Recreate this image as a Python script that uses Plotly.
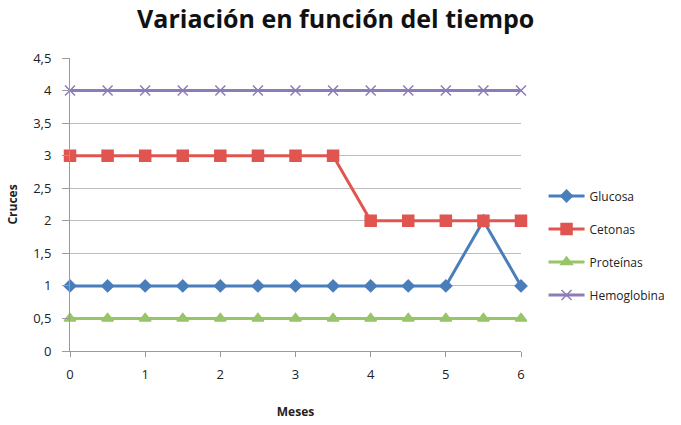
import plotly.graph_objects as go

meses = [0, 0.5, 1, 1.5, 2, 2.5, 3, 3.5, 4, 4.5, 5, 5.5, 6]
glucosa = [1, 1, 1, 1, 1, 1, 1, 1, 1, 1, 1, 2, 1]
cetonas = [3, 3, 3, 3, 3, 3, 3, 3, 2, 2, 2, 2, 2]
proteinas = [0.5] * 13
hemoglobina = [4] * 13

y_ticks = [0, 0.5, 1, 1.5, 2, 2.5, 3, 3.5, 4, 4.5]
y_labels = ["0", "0,5", "1", "1,5", "2", "2,5", "3", "3,5", "4", "4,5"]

series = [
    ("Glucosa", glucosa, "#4A7EBB", "diamond", 9),
    ("Cetonas", cetonas, "#E05550", "square", 11),
    ("Proteínas", proteinas, "#98C46A", "triangle-up", 10),
    ("Hemoglobina", hemoglobina, "#8C7DB8", "x-thin", 10),
]

fig = go.Figure()
for name, vals, color, sym, size in series:
    fig.add_trace(go.Scatter(
        x=meses, y=vals, name=name, mode="lines+markers", legendgroup=name,
        line=dict(color=color, width=3),
        marker=dict(symbol=sym, size=size, color=color,
                    line=dict(color=color, width=1.5)),
        cliponaxis=False,
    ))

font_family = "Open Sans, Liberation Sans, sans-serif"
fig.update_layout(
    width=681, height=425,
    margin=dict(l=70, r=160, t=58, b=74, autoexpand=False),
    paper_bgcolor="white", plot_bgcolor="white",
    title=dict(text="<b>Variación en función del tiempo</b>", x=0.493, xanchor="center",
               y=0.955, yanchor="middle",
               font=dict(family=font_family, size=25, color="#111")),
    font=dict(family=font_family, size=11, color="#222"),
    xaxis=dict(range=[0, 6], tickvals=[0, 1, 2, 3, 4, 5, 6],
               showgrid=False, zeroline=False, showline=True,
               linecolor="#9a9a9a", linewidth=1, ticks="outside", ticklen=5,
               tickcolor="#9a9a9a", ticklabelstandoff=6, automargin=False,
               title=dict(text="<b>Meses</b>", font=dict(size=12), standoff=26),
               tickfont=dict(size=13)),
    yaxis=dict(range=[0, 4.5], tickvals=y_ticks, ticktext=y_labels,
               showgrid=True, gridcolor="#bdbdbd", gridwidth=1, zeroline=False,
               showline=True, linecolor="#9a9a9a", ticks="outside", ticklen=7,
               tickcolor="#9a9a9a", ticklabelstandoff=8, automargin=False,
               title=dict(text="<b>Cruces</b>", font=dict(size=12), standoff=12),
               tickfont=dict(size=13)),
    legend=dict(x=1.05, y=0.36, yanchor="middle", xanchor="left",
                font=dict(size=12), itemwidth=36, tracegroupgap=14,
                bgcolor="rgba(0,0,0,0)"),
)

fig.write_html("out.html")
